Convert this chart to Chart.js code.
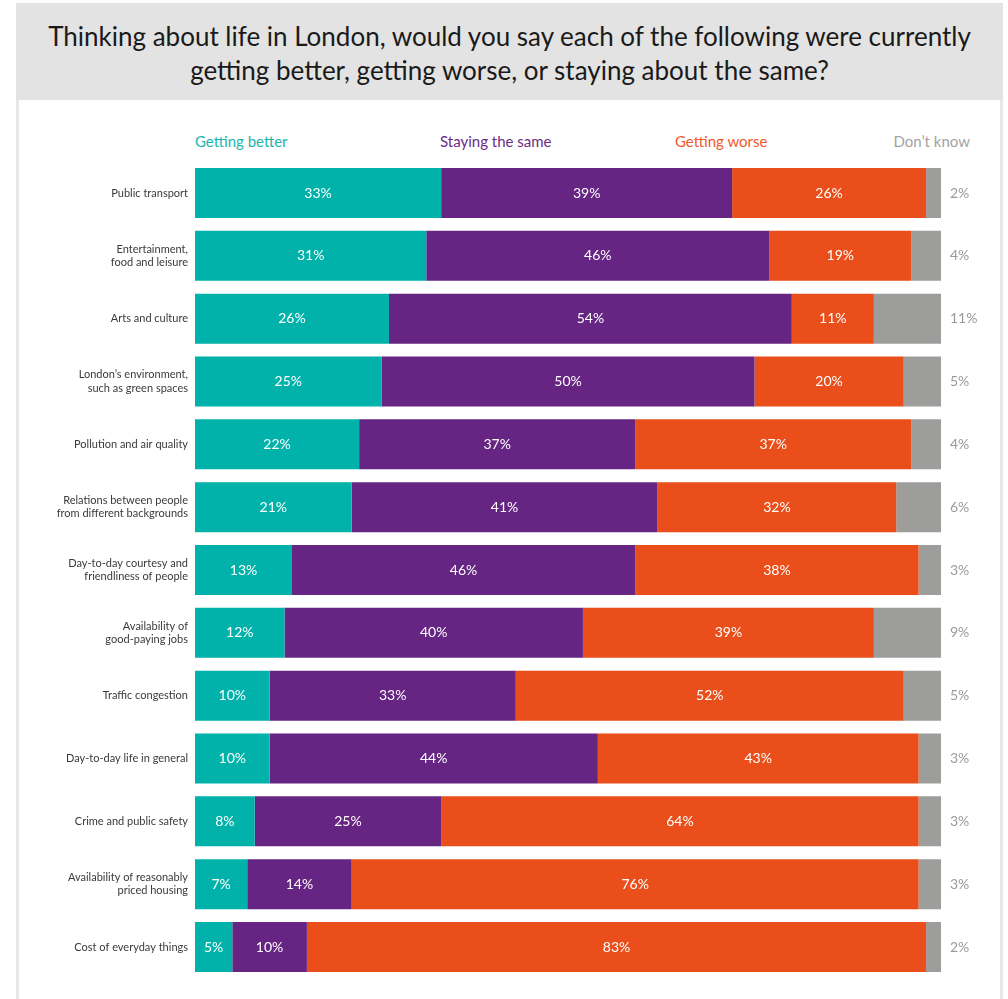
<!DOCTYPE html>
<html>
<head>
<meta charset="utf-8">
<script src="https://cdn.jsdelivr.net/npm/chart.js@4"></script>
<style>
  body { margin: 0; background: #fff; font-family: Lato, sans-serif; }
  #header {
    position: absolute; left: 16px; top: 3px; width: 987px; height: 97px;
    background: #e3e3e3; color: #1a1a1a; text-align: center;
    font-size: 26px; line-height: 34px; box-sizing: border-box; padding-top: 16px;
  }
  .edge { position: absolute; top: 100px; width: 3px; height: 899px; background: #e8e8e8; }
  .key { position: absolute; top: 132px; font-size: 15px; }
  #wrap { position: absolute; left: 19px; top: 100px; width: 981px; height: 899px; }
</style>
</head>
<body>
<div id="header">Thinking about life in London, would you say each of the following were currently<br>getting better, getting worse, or staying about the same?</div>
<div class="edge" style="left:16px"></div>
<div class="edge" style="left:1000px"></div>
<div class="key" style="left:195px;color:#1cb5ad">Getting better</div>
<div class="key" style="left:440px;color:#6b2c88">Staying the same</div>
<div class="key" style="left:675px;color:#ee5a2b">Getting worse</div>
<div class="key" style="right:38px;color:#a3a3a3">Don’t know</div>
<div id="wrap"><canvas id="chart"></canvas></div>
<script>
const categories = [
  'Public transport',
  ['Entertainment,', 'food and leisure'],
  'Arts and culture',
  ['London’s environment,', 'such as green spaces'],
  'Pollution and air quality',
  ['Relations between people', 'from different backgrounds'],
  ['Day-to-day courtesy and', 'friendliness of people'],
  ['Availability of', 'good-paying jobs'],
  'Traffic congestion',
  'Day-to-day life in general',
  'Crime and public safety',
  ['Availability of reasonably', 'priced housing'],
  'Cost of everyday things'
];
const better    = [33, 31, 26, 25, 22, 21, 13, 12, 10, 10, 8, 7, 5];
const same      = [39, 46, 54, 50, 37, 41, 46, 40, 33, 44, 25, 14, 10];
const worse     = [26, 19, 11, 20, 37, 32, 38, 39, 52, 43, 64, 76, 83];
const dontKnow  = [2, 4, 11, 5, 4, 6, 3, 9, 5, 3, 3, 3, 2];

// percentages inside the bars, and "don't know" out past the right end
const barLabels = {
  id: 'barLabels',
  afterDatasetsDraw(chart) {
    const ctx = chart.ctx;
    ctx.save();
    ctx.font = '14px Lato';
    ctx.textBaseline = 'middle';
    chart.data.datasets.forEach((ds, i) => {
      chart.getDatasetMeta(i).data.forEach((bar, j) => {
        const v = ds.data[j];
        if (i < 3) {
          ctx.fillStyle = '#ffffff';
          ctx.textAlign = 'center';
          ctx.fillText(v + '%', (bar.base + bar.x) / 2, bar.y);
        } else {
          ctx.fillStyle = '#9a9a9a';
          ctx.textAlign = 'left';
          ctx.fillText(v + '%', chart.chartArea.right + 9, bar.y);
        }
      });
    });
    ctx.restore();
  }
};

new Chart(document.getElementById('chart'), {
  type: 'bar',
  data: {
    labels: categories,
    datasets: [
      { label: 'Getting better', data: better, backgroundColor: '#00b2a9' },
      { label: 'Staying the same', data: same, backgroundColor: '#662483' },
      { label: 'Getting worse', data: worse, backgroundColor: '#e94e1b' },
      { label: 'Don’t know', data: dontKnow, backgroundColor: '#9d9d9c' }
    ]
  },
  options: {
    indexAxis: 'y',
    responsive: true,
    maintainAspectRatio: false,
    animation: false,
    barPercentage: 0.796,
    categoryPercentage: 1,
    layout: { padding: { top: 61.6, bottom: 20.6, left: 0, right: 59 } },
    plugins: { legend: { display: false }, tooltip: { enabled: false } },
    scales: {
      x: { stacked: true, min: 0, max: 100, display: false },
      y: {
        stacked: true,
        grid: { display: false, drawTicks: false },
        border: { display: false },
        ticks: {
          color: '#3a3a3a',
          font: { family: 'Lato', size: 11, lineHeight: 1.2 },
          padding: 7
        },
        afterFit(scale) { scale.width = 176; }
      }
    }
  },
  plugins: [barLabels]
});
</script>
</body>
</html>
